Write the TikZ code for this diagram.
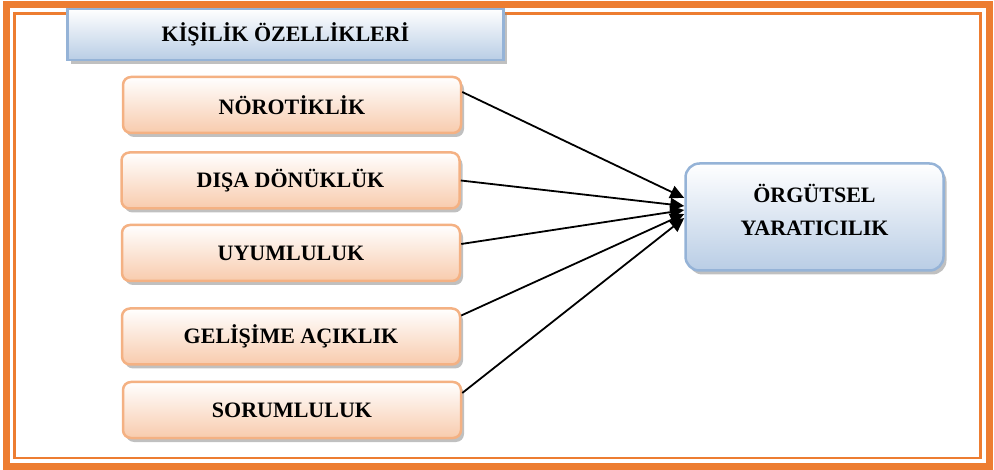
\documentclass[tikz,border=0pt]{standalone}
\usepackage{fontspec}
\setmainfont{Liberation Serif}
\usetikzlibrary{arrows.meta}
\usetikzlibrary{shadows}
\definecolor{frameorange}{HTML}{ED7D31}
\definecolor{peachline}{HTML}{F4B183}
\definecolor{peachfill}{HTML}{F8CBAD}
\definecolor{blueline}{HTML}{95B3D7}
\definecolor{bluefill}{HTML}{B9CDE5}
\newcommand{\boxwidth}{338pt}
\newcommand{\boxheight}{56pt}

\begin{document}
\begin{tikzpicture}[x=1pt,y=-1pt,
    boxshadow/.style={drop shadow={shadow xshift=3pt,shadow yshift=-4pt,fill=black!45,opacity=.55}},
    traitbox/.style={draw=peachline,line width=2.5pt,rounded corners=8pt,top color=white,bottom color=peachfill,
        minimum width=\boxwidth,minimum height=\boxheight,boxshadow},
    bluebox/.style={draw=blueline,line width=2.5pt,top color=white,bottom color=bluefill,boxshadow}]
                \useasboundingbox (0,0) rectangle (994,470);
                % double orange frame
                \draw[frameorange,line width=7pt] (6,5) rectangle (989,466);
                \draw[frameorange,line width=2.5pt] (14.5,13.5) rectangle (980.5,458);

                \begin{scope}[every node/.style={font=\fontsize{22}{33}\selectfont\bfseries,align=center}]
                    \node[bluebox,minimum width=436pt,minimum height=51pt] (kisilik) at (285.5,34.5) {KİŞİLİK ÖZELLİKLERİ};
                    \node[traitbox] (noro) at (292,105) {NÖROTİKLİK};
                    \node[traitbox] (disa) at (290.5,180.5) {DIŞA DÖNÜKLÜK};
                    \node[traitbox] (uyum) at (291,253) {UYUMLULUK};
                    \node[traitbox] (gelis) at (291,336.5) {GELİŞİME AÇIKLIK};
                    \node[traitbox] (sorum) at (292,410) {SORUMLULUK};
                    \node[bluebox,rounded corners=14pt,minimum width=258pt,minimum height=107pt] (orgut) at (814.5,217) {ÖRGÜTSEL\\YARATICILIK\\[-18pt]\mbox{}};
                \end{scope}

                \begin{scope}[>={Triangle[length=14pt,width=13pt]},
                    every edge/.style={draw=black,line width=1.8pt}]
                    \path [->] ([yshift=13pt]noro.east) edge node {} ([yshift=19pt]orgut.west);
                    \path [->] (disa.east) edge node {} ([yshift=11pt]orgut.west);
                    \path [->] ([yshift=9pt]uyum.east) edge node {} ([yshift=7pt]orgut.west);
                    \path [->] ([yshift=21pt]gelis.east) edge node {} ([yshift=3pt]orgut.west);
                    \path [->] ([yshift=17pt]sorum.east) edge node {} ([yshift=-1pt]orgut.west);
                \end{scope}
            \end{tikzpicture}
\end{document}
